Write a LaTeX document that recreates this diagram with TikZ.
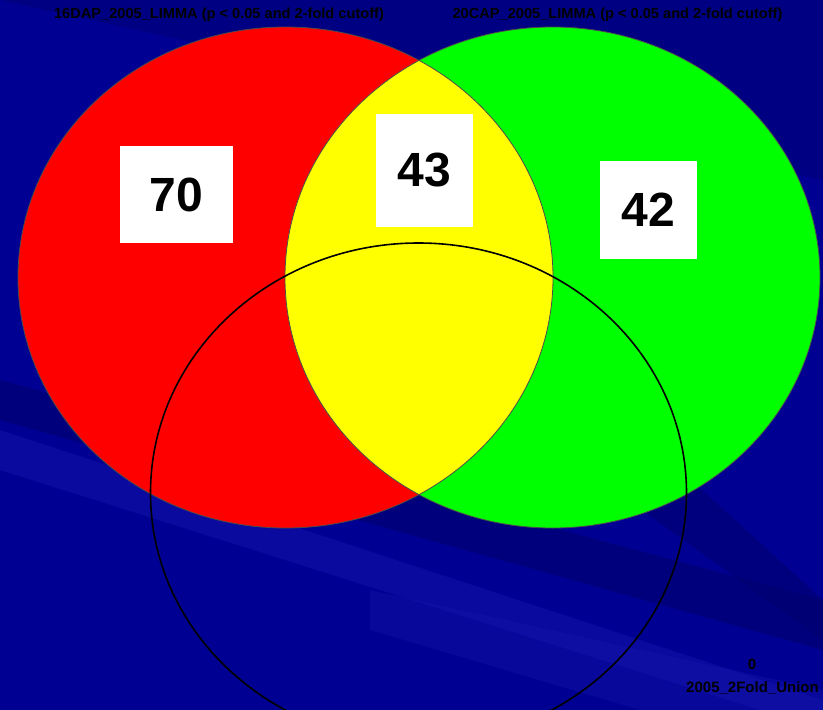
\documentclass[tikz,border=0pt]{standalone}
\usepackage{fontspec}
\setmainfont{Liberation Sans}
\definecolor{bgblue}{RGB}{0,0,146}
\definecolor{darkband}{RGB}{0,0,110}
\definecolor{lightband}{RGB}{20,20,170}
\definecolor{vred}{RGB}{255,0,0}
\definecolor{vgreen}{RGB}{0,255,0}
\definecolor{vyellow}{RGB}{255,255,0}
\tikzset{
  numbox/.style={fill=white, inner sep=0pt, minimum width=97pt, minimum height=97pt, font=\bfseries\fontsize{48}{48}\selectfont},
  titletext/.style={font=\bfseries\fontsize{14.6}{14.6}\selectfont, text=black, inner sep=0pt},
  settext/.style={font=\bfseries\fontsize{15}{15}\selectfont, text=black, inner sep=0pt}
}
\begin{document}
\begin{tikzpicture}[x=1pt,y=-1pt]
\useasboundingbox (0,0) rectangle (823,710);
% background
\fill[bgblue] (0,0) rectangle (823,710);
\fill[darkband, opacity=0.6] (0,380) -- (823,600) -- (823,650) -- (0,420) -- cycle;
\fill[lightband, opacity=0.5] (0,430) -- (823,700) -- (823,710) -- (760,710) -- (0,470) -- cycle;
\fill[lightband, opacity=0.4] (370,590) -- (823,690) -- (823,710) -- (640,710) -- (370,630) -- cycle;
\fill[darkband, opacity=0.5] (600,480) -- (823,640) -- (823,600) -- (680,470) -- cycle;
\fill[darkband, opacity=0.4] (0,0) -- (823,180) -- (823,0) -- cycle;
% circles
\fill[vred] (285.5,277.5) ellipse [x radius=267.5, y radius=250.5];
\fill[vgreen] (552.5,277.5) ellipse [x radius=267.5, y radius=250.5];
\begin{scope}
  \clip (285.5,277.5) ellipse [x radius=267.5, y radius=250.5];
  \fill[vyellow] (552.5,277.5) ellipse [x radius=267.5, y radius=250.5];
\end{scope}
\draw[black!70, line width=0.8pt] (285.5,277.5) ellipse [x radius=267.5, y radius=250.5];
\draw[black!70, line width=0.8pt] (552.5,277.5) ellipse [x radius=267.5, y radius=250.5];
% third set outline
\draw[black, line width=1.6pt] (418.5,493) ellipse [x radius=268, y radius=250];
% count boxes
\node[numbox, minimum width=113pt] (n70) at (176.5,194.5) {70};
\node[numbox, minimum height=113pt] (n43) at (424.5,170.5) {43};
\node[numbox, minimum height=98pt] (n42) at (648.5,210) {42};
% titles
\node[titletext] (t1) at (219,15) {16DAP\_2005\_LIMMA (p < 0.05 and 2-fold cutoff)};
\node[titletext] (t2) at (617.5,15) {20CAP\_2005\_LIMMA (p < 0.05 and 2-fold cutoff)};
\node[settext] (n0) at (752,664) {0};
\node[settext] (t3) at (752.5,688) {2005\_2Fold\_Union};
\end{tikzpicture}
\end{document}
